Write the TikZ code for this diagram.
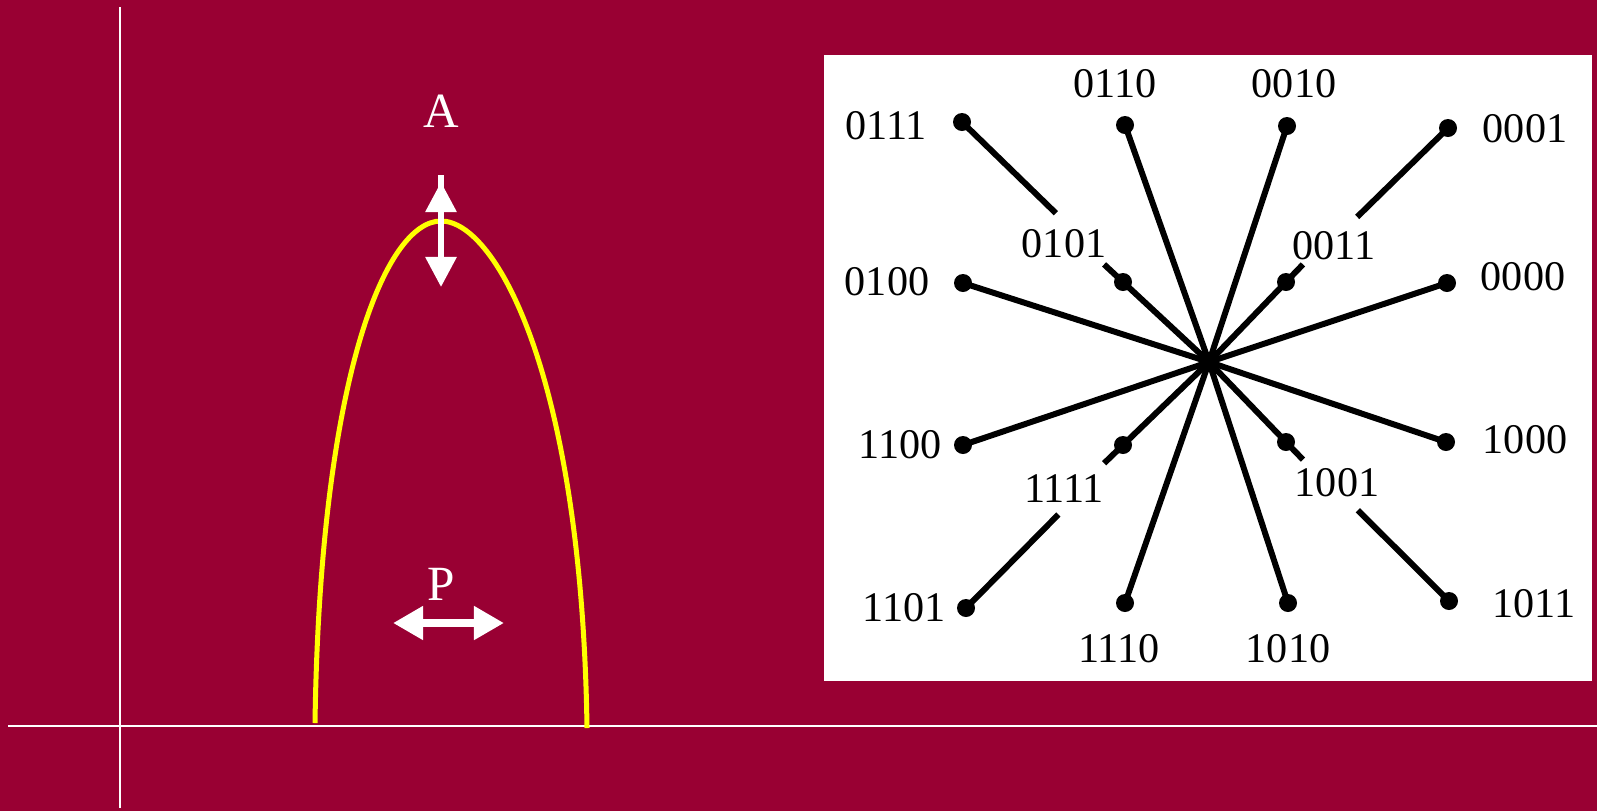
\documentclass[tikz,border=0pt]{standalone}
\usepackage{fontspec}
\setmainfont{Liberation Serif}
\usetikzlibrary{arrows.meta,calc}
\definecolor{SlideRed}{RGB}{153,0,51}
\definecolor{ArchYellow}{RGB}{255,255,0}

\begin{document}
\begin{tikzpicture}[x=.01cm,y=-.01cm,
  axisline/.style={white,line width=.45pt},
  spoke/.style={line width=1.7pt},
  pin/.style={circle,fill,inner sep=0pt,minimum size=.18cm},
  code/.style={font=\fontsize{12}{13}\selectfont},
  tag/.style={white,font=\fontsize{14}{16}\selectfont},
  dbl/.style={white,line width=.06cm,{Triangle[width=.3cm,length=.3cm]}-{Triangle[width=.3cm,length=.3cm]}},
  wide/.style={white,line width=.08cm,{Triangle[width=.32cm,length=.3cm]}-{Triangle[width=.32cm,length=.3cm]}}]
  \fill[SlideRed] (0,0) rectangle (1597,811);
  \useasboundingbox (0,0) rectangle (1597,811);
  % axes
  \coordinate (yb) at (120,808);
  \coordinate (yt) at (120,7);
  \coordinate (xl) at (8,726);
  \coordinate (xr) at (1597,726);
  \draw[axisline] (yb) -- (yt);
  \draw[axisline] (xl) -- (xr);
  % the arch
  \draw[ArchYellow,line width=.05cm] (315,723) .. controls (320,380) and (385,221) .. (441,221)
    .. controls (497,221) and (582,380) .. (587,728);
  \node[tag] (ampl) at (441,111) {A};
  \coordinate (atop) at (441,182);
  \coordinate (abot) at (441,287);
  \coordinate (astub) at (441,175);
  \coordinate (ain) at (441,195);
  \draw[dbl] (atop) -- (abot);
  \draw[white,line width=.06cm] (astub) -- (ain);
  \node[tag] (phase) at (441,584) {P};
  \coordinate (pl) at (393,623);
  \coordinate (pr) at (504,623);
  \draw[wide] (pl) -- (pr);
  % constellation
  \fill[white] (824,55) rectangle (1592,681);
  \coordinate (c) at (1209,362);
  \foreach \name/\px/\py/\lx/\ly in {
      0111/962/122/886/126, 0110/1125/125/1115/84, 0010/1287/126/1294/84,
      0001/1448/128/1525/129, 0101/1123/282/1064/244, 0011/1286/282/1334/246,
      0100/963/283/887/282, 0000/1447/283/1523/277, 1100/963/445/900/445,
      1000/1446/442/1525/440, 1111/1123/445/1064/489, 1001/1286/442/1337/483,
      1101/966/608/904/608, 1110/1125/603/1119/649, 1010/1288/603/1288/649,
      1011/1449/601/1534/604}{
    \node[pin] (p\name) at (\px,\py) {};
    \node[code] (l\name) at (\lx,\ly) {\name};
  }
  \foreach \name in {0110,0010,0100,0000,1100,1000,1110,1010}
    \draw[spoke] (c) -- (p\name.center);
  \foreach \name in {0101,0011,1111,1001}
    \draw[spoke] (c) -- ($(c)!1.22!(p\name)$);
  \foreach \name in {0111,0001,1101,1011}
    \draw[spoke] (p\name.center) -- ($(p\name)!.38!(c)$);
  \fill (c) circle (.1cm);
\end{tikzpicture}
\end{document}
